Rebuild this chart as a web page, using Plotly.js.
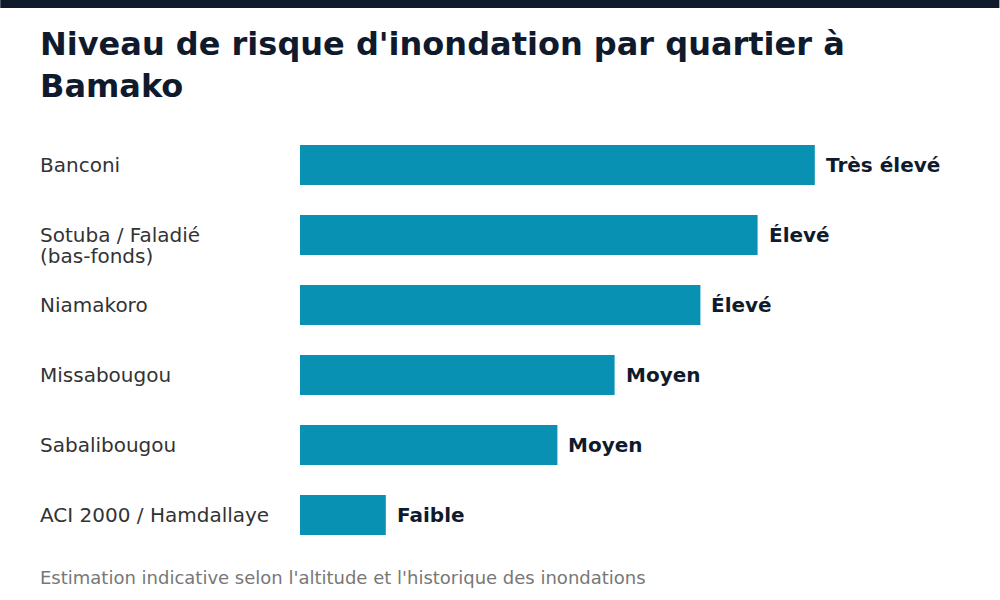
<!DOCTYPE html>
<html>
<head>
<meta charset="utf-8">
<script src="https://cdn.plot.ly/plotly-3.0.1.min.js"></script>
<style>html,body{margin:0;padding:0;background:#fff;}#chart{width:1000px;height:600px;}</style>
</head>
<body>
<div id="chart"></div>
<script>
const quartiers = ["Banconi", "Sotuba / Faladié<br>(bas-fonds)", "Niamakoro", "Missabougou", "Sabalibougou", "ACI 2000 / Hamdallaye"];
const scores = [9, 8, 7, 5.5, 4.5, 1.5];
const niveaux = ["Très élevé", "Élevé", "Élevé", "Moyen", "Moyen", "Faible"];
const titre = "Niveau de risque d'inondation par quartier à<br>Bamako";
const note = "Estimation indicative selon l'altitude et l'historique des inondations";

const W = 1000, H = 600;
const M = {l: 300, r: 127.5, t: 130, b: 50};
const pw = W - M.l - M.r, ph = H - M.t - M.b;
const FONT = "DejaVu Sans, sans-serif";
const px2x = p => (p - M.l) / pw;
const py2y = p => (H - M.b - p) / ph;

const annotations = [];
quartiers.forEach((q, i) => {
  q.split('<br>').forEach((line, k) => {
    annotations.push({
      text: line, xref: 'paper', yref: 'y', x: px2x(40), y: q,
      xanchor: 'left', yanchor: 'middle', align: 'left', showarrow: false,
      xshift: -2, yshift: -21 * k,
      font: {family: FONT, size: 20, color: '#333333'}
    });
  });
  annotations.push({
    text: '<b>' + niveaux[i] + '</b>', xref: 'x', yref: 'y', x: scores[i], y: q,
    xanchor: 'left', yanchor: 'middle', showarrow: false, xshift: 9,
    font: {family: FONT, size: 20, color: '#0f1b2d'}
  });
});
annotations.push({
  text: note, xref: 'paper', yref: 'paper', x: px2x(40), y: py2y(577),
  xanchor: 'left', yanchor: 'middle', showarrow: false, xshift: -2,
  font: {family: FONT, size: 18, color: '#777777'}
});

const data = [{
  type: 'bar', orientation: 'h', y: quartiers, x: scores,
  marker: {color: '#0891b2'}, hoverinfo: 'skip'
}];

const layout = {
  width: W, height: H, margin: M,
  paper_bgcolor: '#ffffff', plot_bgcolor: '#ffffff',
  bargap: 0.4286, showlegend: false,
  title: {
    text: '<b>' + titre + '</b>', xref: 'container', yref: 'container',
    x: 0.04, xanchor: 'left', y: 1 - 55 / H, yanchor: 'top',
    font: {family: FONT, size: 32, color: '#0f1b2d'}
  },
  xaxis: {range: [0, 10], visible: false, fixedrange: true},
  yaxis: {autorange: 'reversed', showticklabels: false, showgrid: false, zeroline: false, showline: false, ticks: ''},
  annotations: annotations,
  shapes: [{
    type: 'rect', xref: 'paper', yref: 'paper',
    x0: px2x(0), x1: px2x(W), y0: py2y(8), y1: py2y(0),
    fillcolor: '#0f1b2d', line: {width: 0}, layer: 'above'
  }]
};

Plotly.newPlot('chart', data, layout, {displayModeBar: false, staticPlot: true});
</script>
</body>
</html>
